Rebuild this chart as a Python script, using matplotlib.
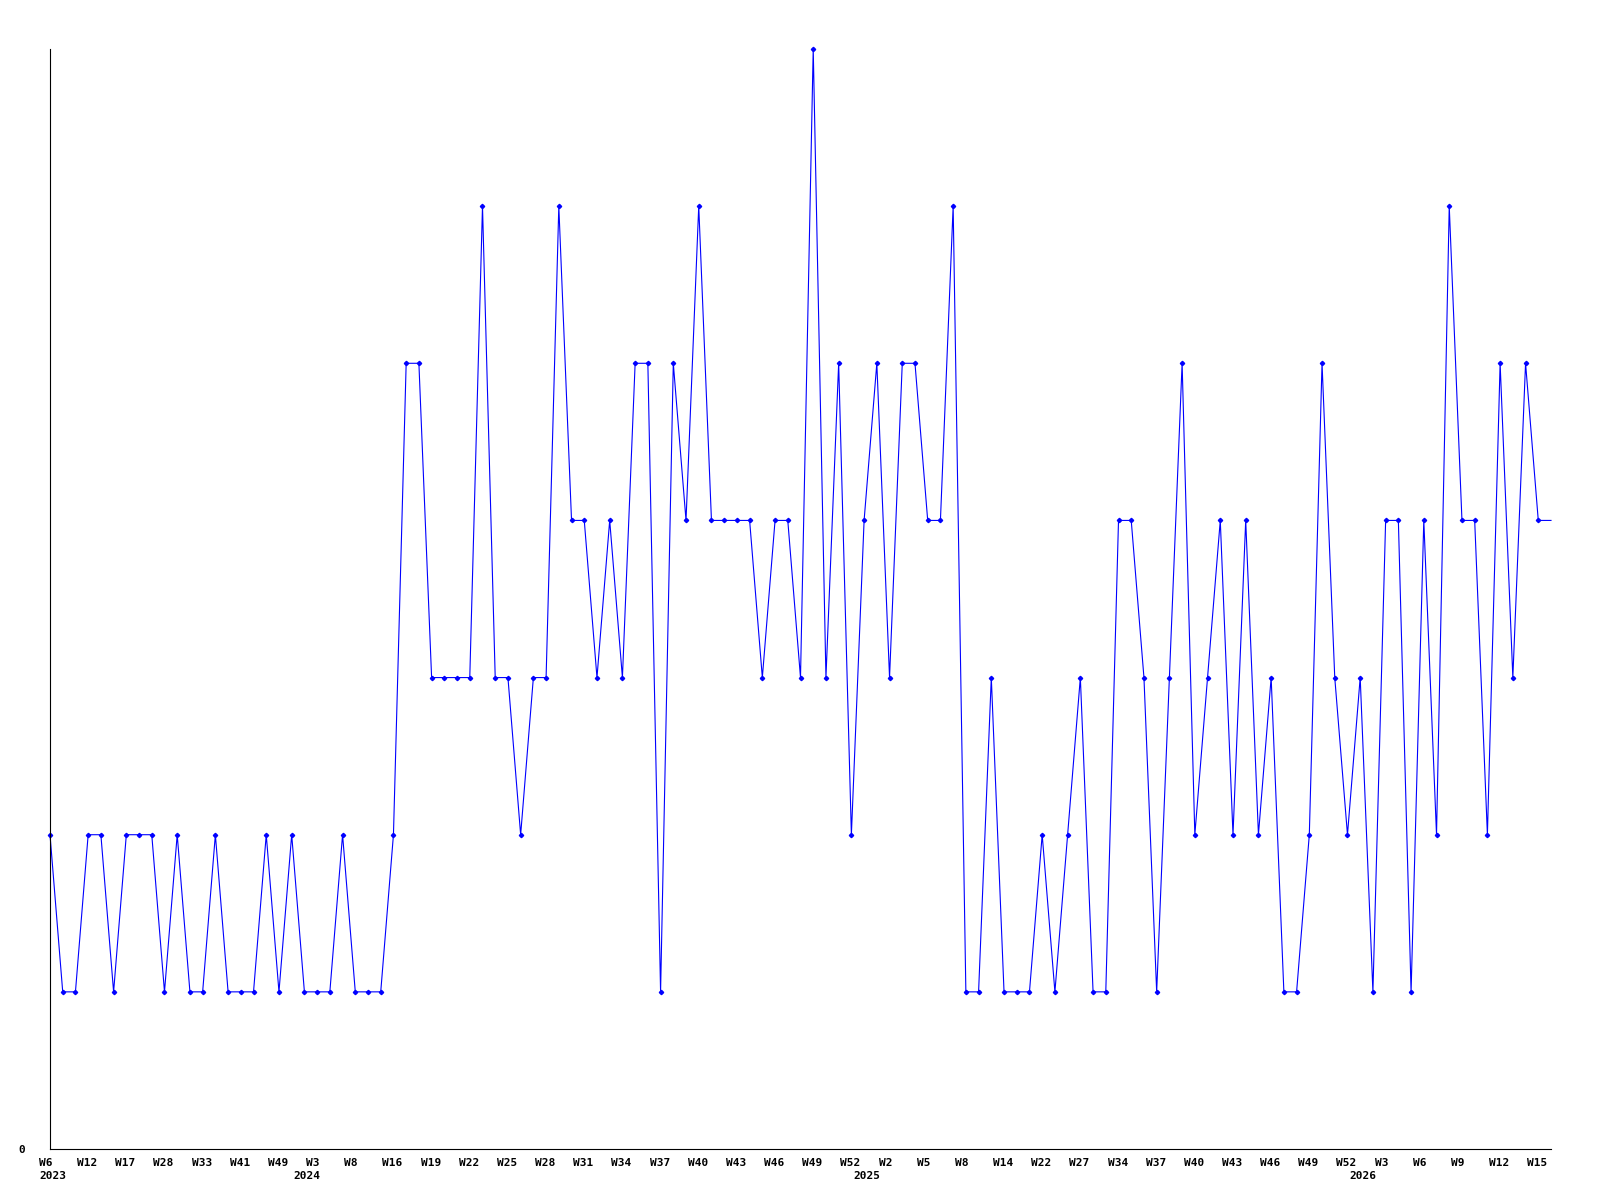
# Weekly counts line chart, 2023 - 2026
import matplotlib
matplotlib.use("Agg")
import matplotlib.pyplot as plt
import matplotlib.transforms as mtransforms

# one value per point
values = [2, 1, 1, 2, 2, 1, 2, 2, 2, 1, 2, 1, 1, 2, 1, 1, 1, 2, 1, 2, 1, 1, 1, 2, 1, 1, 1, 2, 5, 5,
          3, 3, 3, 3, 6, 3, 3, 2, 3, 3, 6, 4, 4, 3, 4, 3, 5, 5, 1, 5, 4, 6, 4, 4, 4, 4, 3, 4, 4, 3,
          7, 3, 5, 2, 4, 5, 3, 5, 5, 4, 4, 6, 1, 1, 3, 1, 1, 1, 2, 1, 2, 3, 1, 1, 4, 4, 3, 1, 3, 5,
          2, 3, 4, 2, 4, 2, 3, 1, 1, 2, 5, 3, 2, 3, 1, 4, 4, 1, 4, 2, 6, 4, 4, 2, 5, 3, 5, 4, 4]

# a week label on every third point
week_labels = ["W6", "W12", "W17", "W28", "W33", "W41", "W49",
               "W3", "W8", "W16", "W19", "W22", "W25", "W28", "W31", "W34", "W37",
               "W40", "W43", "W46", "W49", "W52",
               "W2", "W5", "W8", "W14", "W22", "W27", "W34", "W37", "W40", "W43",
               "W46", "W49", "W52",
               "W3", "W6", "W9", "W12", "W15"]
week_step = 3

years = ["2023", "2024", "2025", "2026"]
year_points = [0, 20, 64, 103]

font = dict(family="DejaVu Sans Mono", weight="bold", size=8)

fig = plt.figure(figsize=(16, 12), dpi=100)
ax = fig.add_axes([50 / 1600, 51 / 1200, 1501 / 1600, 1100 / 1200])

x = list(range(len(values)))
ax.plot(x, values, color="#0000ff", lw=0.8, marker="D", ms=2.2,
        markevery=list(range(len(values) - 1)), clip_on=False)

ax.set_xlim(0, len(values) - 1)
ax.set_ylim(0, max(values))

for side in ["top", "right"]:
    ax.spines[side].set_visible(False)
for side in ["left", "bottom"]:
    ax.spines[side].set_linewidth(0.8)
    ax.spines[side].set_color("black")

# x labels: left aligned, a little left of their point
ax.set_xticks(x[::week_step][:len(week_labels)])
ax.set_xticklabels(week_labels, **font)
ax.tick_params(axis="x", length=0, pad=6.5)
shift = mtransforms.ScaledTranslation(-11 / 100, 0, fig.dpi_scale_trans)
for lab in ax.get_xticklabels():
    lab.set_horizontalalignment("left")
    lab.set_transform(lab.get_transform() + shift)

# year row under the week row
trans = mtransforms.blended_transform_factory(ax.transData, ax.transAxes)
trans = trans + mtransforms.ScaledTranslation(-11 / 100, -22 / 100, fig.dpi_scale_trans)
for yr, p in zip(years, year_points):
    ax.text(p, 0, yr, transform=trans, ha="left", va="top", **font)

ax.set_yticks([0])
ax.set_yticklabels(["0"], **font)
ax.tick_params(axis="y", length=0, pad=18)

fig.savefig("out.png", dpi=100)
